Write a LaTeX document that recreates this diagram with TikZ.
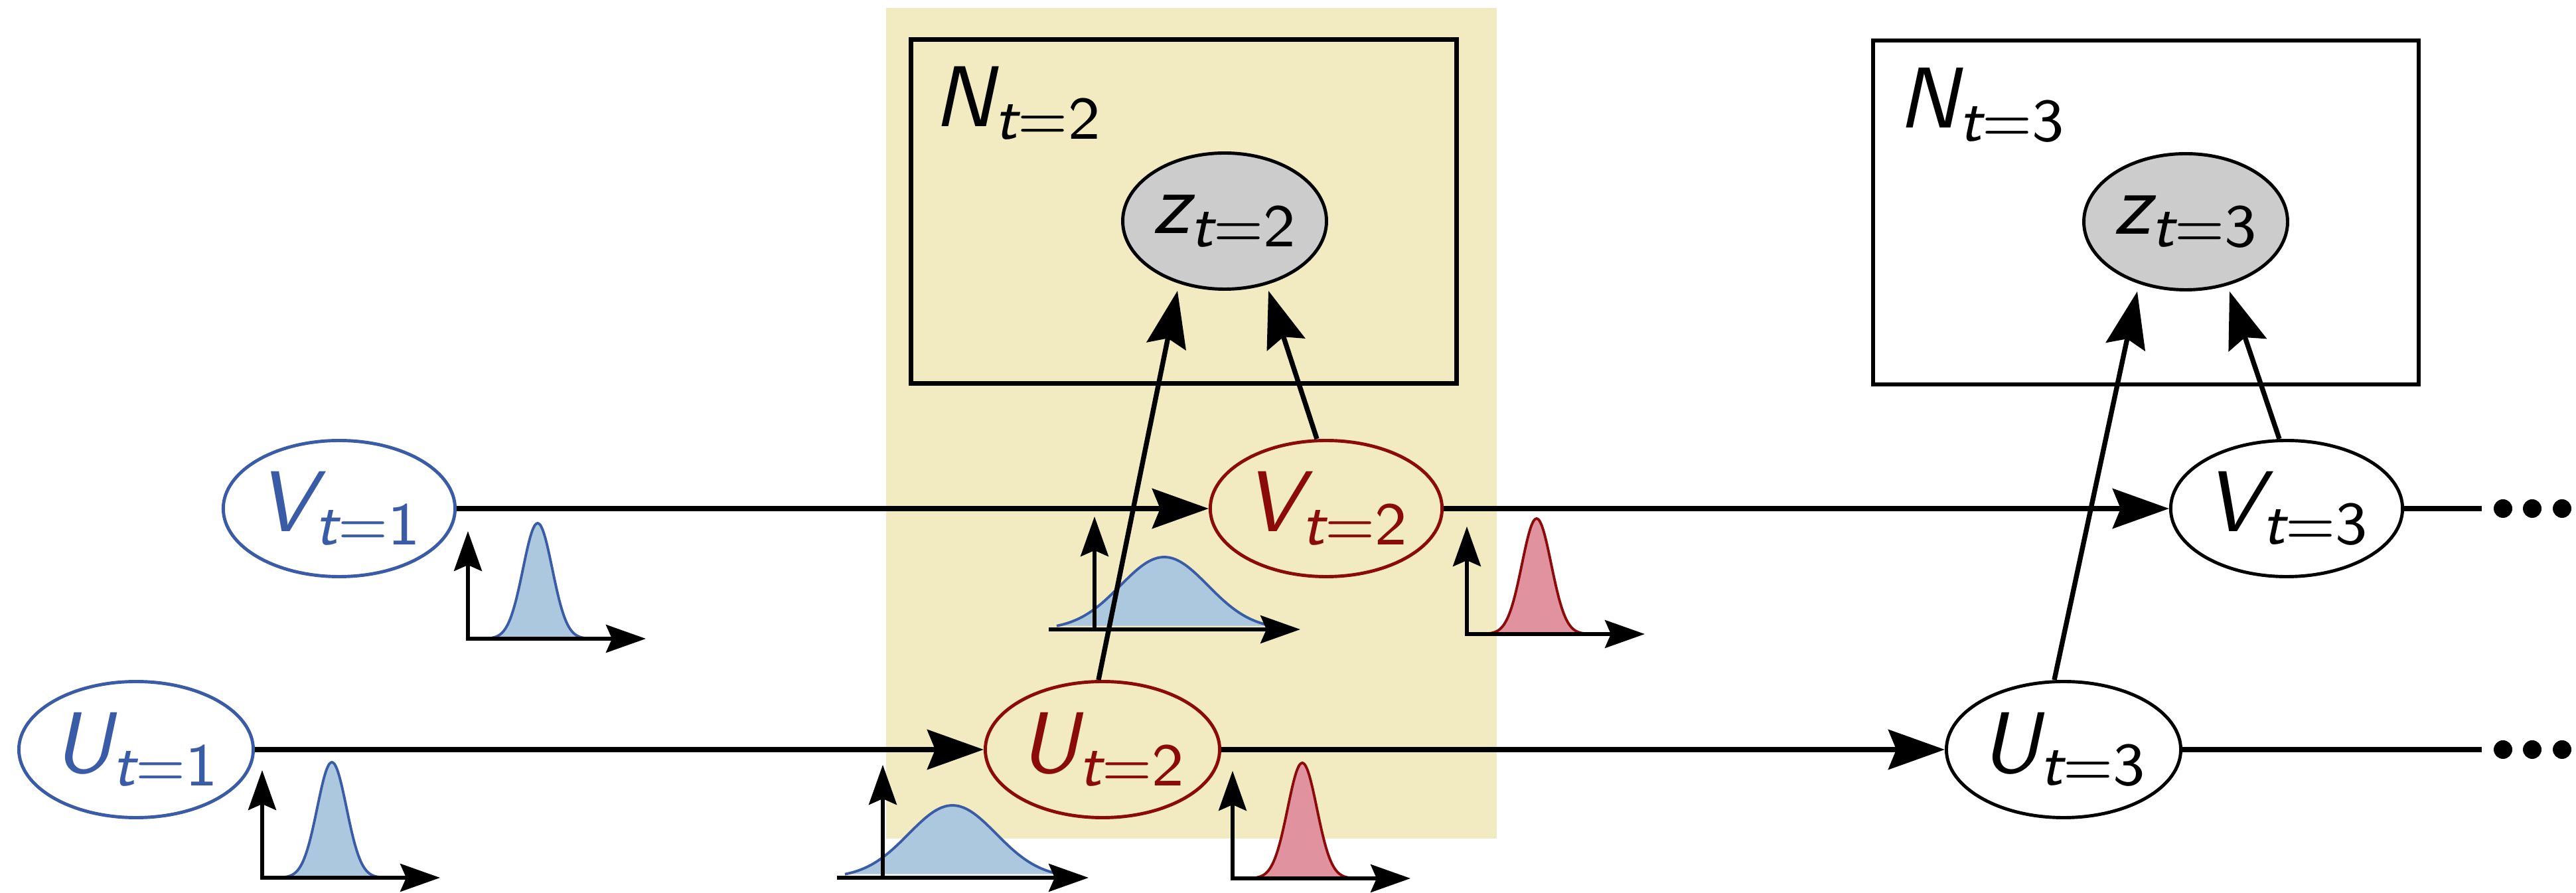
\RequirePackage{fix-cm}
\documentclass[tikz,border=0pt]{standalone}
\usepackage{fontspec}
\usetikzlibrary{arrows.meta, positioning, calc, shapes.geometric}

\definecolor{nodeblue}{HTML}{3A5BA5}
\definecolor{pdfblue}{HTML}{ABC8DF}
\definecolor{nodered}{HTML}{8B0A0A}
\definecolor{pdfred}{HTML}{E0939E}
\definecolor{slicebg}{HTML}{F2EAC0}
\definecolor{obsgray}{HTML}{CCCCCC}

\newfontfamily\mainsf{lmsans10-regular.otf}[ItalicFont=lmsans10-oblique.otf]
\newfontfamily\subsf{lmsans8-regular.otf}[ItalicFont=lmsans8-oblique.otf]
\newcommand{\figfont}{\fontsize{37}{40}\selectfont\mainsf}
\newcommand{\varlab}[2]{{\itshape #1}\textsubscript{\subsf{\itshape t}=#2}}

\tikzset{
  var/.style={ellipse, draw=#1, text=#1, line width=1.4pt, minimum width=3.46cm, minimum height=2.05cm, inner sep=0pt, font=\figfont},
  obs/.style={ellipse, draw, fill=obsgray, line width=1.4pt, minimum width=3.07cm, minimum height=2.05cm, inner sep=0pt, font=\figfont},
  plate/.style={draw, line width=1.9pt, minimum width=8.22cm, minimum height=5.18cm},
  lab/.style={anchor=base west, inner sep=0pt, font=\figfont},
  arr/.style={-{Stealth[length=0.85cm, width=0.6cm, inset=0.12cm]}, line width=2.1pt},
  link/.style={line width=2.1pt},
  axis/.style={-{Stealth[length=0.6cm, width=0.42cm, inset=0.09cm]}, line width=1.5pt},
}

% small density plots: #1 origin, #2 line colour, #3 fill colour
\newcommand{\pdfnarrow}[3]{%
  \begin{scope}[shift={#1}]
    \draw[draw=#2, fill=#3, line width=1.1pt] plot[domain=-0.75:0.75, samples=41, smooth] ({1.05+\x}, {1.74*exp(-\x*\x/0.0968)});
    \draw[axis, {Stealth[length=0.6cm, width=0.42cm, inset=0.09cm]}-{Stealth[length=0.6cm, width=0.42cm, inset=0.09cm]}] (0,1.62) -- (0,0) -- (2.68,0);
  \end{scope}}
\newcommand{\pdfwide}[3]{%
  \begin{scope}[shift={#1}]
    \draw[draw=#2, fill=#3, line width=1.1pt] plot[domain=-1.62:1.62, samples=41, smooth] ({1.05+\x}, {1.09*exp(-\x*\x/0.87)});
    \draw[axis] (-0.69,0) -- (3.10,0);
    \draw[axis] (0,0) -- (0,1.70);
  \end{scope}}

\begin{document}
\begin{tikzpicture}
  \useasboundingbox (0,0) rectangle (38.81,13.45);
  % time slice t=2
  \fill[slicebg] (13.35,0.82) rectangle (22.55,13.33);

  % plates
  \node[plate] (N2) at (17.835,10.265) {};
  \node[plate] (N3) at (32.33,10.25) {};
  \node[lab] (N2lab) at ($(N2.north west)+(0.37,-1.34)$) {\varlab{N}{2}};
  \node[lab] (N3lab) at ($(N3.north west)+(0.40,-1.35)$) {\varlab{N}{3}};

  % densities
  \pdfnarrow{(3.95,0.23)}{nodeblue}{pdfblue}
  \pdfnarrow{(7.05,3.83)}{nodeblue}{pdfblue}
  \pdfwide{(13.30,0.23)}{nodeblue}{pdfblue}
  \pdfwide{(16.49,3.97)}{nodeblue}{pdfblue}
  \pdfnarrow{(18.57,0.22)}{nodered}{pdfred}
  \pdfnarrow{(22.10,3.90)}{nodered}{pdfred}

  % variables
  \node[var=nodeblue] (U1) at (2.05,2.16) {\varlab{U}{1}};
  \node[var=nodeblue] (V1) at (5.11,5.79) {\varlab{V}{1}};
  \node[var=nodered] (U2) at (16.61,2.16) {\varlab{U}{2}};
  \node[var=nodered] (V2) at (19.98,5.79) {\varlab{V}{2}};
  \node[var=black] (U3) at (31.09,2.16) {\varlab{U}{3}};
  \node[var=black] (V3) at (34.45,5.79) {\varlab{V}{3}};
  \node[obs] (z2) at (18.45,10.12) {\varlab{z}{2}};
  \node[obs] (z3) at (32.93,10.11) {\varlab{z}{3}};

  % edges
  \draw[arr] (U1) -- (U2);
  \draw[arr] (U2) -- (U3);
  \draw[arr] (V1) -- (V2);
  \draw[arr] (V2) -- (V3);
  \draw[arr] ($(U2.north)+(-0.06,0)$) -- ($(z2.south)+(-0.71,0)$);
  \draw[arr] ($(V2.north)+(-0.14,0)$) -- ($(z2.south)+(0.66,0)$);
  \draw[arr] ($(U3.north)+(-0.14,0)$) -- ($(z3.south)+(-0.73,0)$);
  \draw[arr] ($(V3.north)+(-0.11,0)$) -- ($(z3.south)+(0.66,0)$);

  % continuation
  \coordinate (Uend) at (37.39,2.16);
  \coordinate (Vend) at (37.39,5.79);
  \draw[link] (U3) -- (Uend);
  \draw[link] (V3) -- (Vend);
  \fill (37.71,2.16) circle (0.14) (38.15,2.16) circle (0.14) (38.60,2.16) circle (0.14);
  \fill (37.71,5.79) circle (0.14) (38.15,5.79) circle (0.14) (38.60,5.79) circle (0.14);
\end{tikzpicture}
\end{document}
